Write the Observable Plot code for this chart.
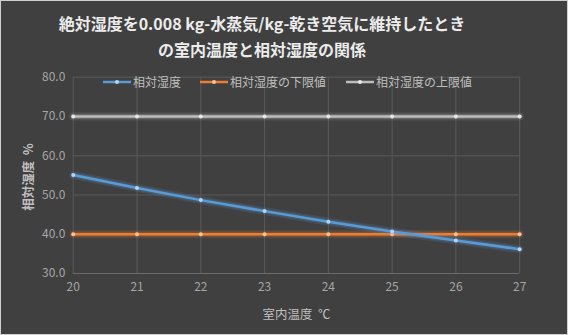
<!DOCTYPE html>
<html><head><meta charset="utf-8">
<script src="https://cdn.jsdelivr.net/npm/d3@7"></script>
<script src="https://cdn.jsdelivr.net/npm/@observablehq/plot@0.6"></script>
<style>
html,body{margin:0;padding:0;background:#404040;}
#wrap{position:relative;width:566px;height:333px;background:#404040;border:1px solid #cfcfcf;overflow:hidden;font-family:"Noto Sans CJK JP","Noto Sans",sans-serif;}
#title{position:absolute;left:0;top:9px;width:522px;text-align:center;color:#ececec;font-weight:bold;font-size:16px;line-height:26px;}
#legend{position:absolute;top:72px;left:0;width:566px;height:16px;font-size:12px;color:#bfbfbf;}
.li{position:absolute;top:0;display:flex;align-items:center;white-space:nowrap;}
#chart{position:absolute;left:0;top:0;}
#ylab{position:absolute;left:-23px;top:166px;width:100px;height:20px;line-height:20px;text-align:center;transform:rotate(-90deg);color:#bfbfbf;font-size:12.5px;font-weight:bold;white-space:pre;}
</style></head>
<body><div id="wrap"><div id="title">絶対湿度を0.008 kg-水蒸気/kg-乾き空気に維持したとき<br>の室内温度と相対湿度の関係</div><div id="chart"></div><div id="legend"></div><div id="ylab"></div></div>
<script>
const temps = [20, 21, 22, 23, 24, 25, 26, 27];
const rh = [55.1, 51.8, 48.7, 45.9, 43.2, 40.7, 38.4, 36.2];
const lowerLimit = [40, 40, 40, 40, 40, 40, 40, 40];
const upperLimit = [70, 70, 70, 70, 70, 70, 70, 70];
const yTicks = [30, 40, 50, 60, 70, 80];
const seriesNames = ["相対湿度", "相対湿度の下限値", "相対湿度の上限値"];
const colors = ["#5b9bd5", "#ed7d31", "#bdbdbd"];
const markerColors = ["#b7d3f0", "#f6c3a0", "#e6e6e6"];
const xLabel = "室内温度\u00a0\u00a0℃";
const yLabel = "相対湿度  %";

const series = [rh, lowerLimit, upperLimit];
const data = [];
series.forEach((vals, s) => temps.forEach((t, i) => data.push({t, v: vals[i], s: seriesNames[s]})));
const bySeries = s => data.filter(d => d.s === seriesNames[s]);

const marks = [
  Plot.gridY(yTicks, {stroke: "#595959", strokeOpacity: 1}),
  Plot.gridX(temps, {stroke: "#595959", strokeOpacity: 1}),
  Plot.ruleY([30], {stroke: "#6a6a6a"}),
];
[1, 2, 0].forEach(s => {
  marks.push(Plot.line(bySeries(s), {x: "t", y: "v", stroke: colors[s], strokeWidth: 8, strokeOpacity: 0.15}));
  marks.push(Plot.line(bySeries(s), {x: "t", y: "v", stroke: colors[s], strokeWidth: 5, strokeOpacity: 0.2}));
  marks.push(Plot.line(bySeries(s), {x: "t", y: "v", stroke: colors[s], strokeWidth: 2.5}));
  marks.push(Plot.dot(bySeries(s), {x: "t", y: "v", r: 2, fill: markerColors[s], stroke: "none"}));
});
marks.push(Plot.axisY(yTicks, {tickSize: 0, tickPadding: 8, tickFormat: d => d.toFixed(1), fill: "#a6a6a6", fontSize: 12, label: null}));
marks.push(Plot.axisX(temps, {tickSize: 0, tickPadding: 9, fill: "#a6a6a6", fontSize: 12, label: null}));

const plot = Plot.plot({
  width: 568, height: 335,
  marginTop: 76, marginBottom: 62, marginLeft: 72, marginRight: 48,
  style: {background: "transparent", color: "#a6a6a6", fontFamily: "'Noto Sans CJK JP','Noto Sans',sans-serif", fontSize: "12px"},
  x: {domain: [20, 27]},
  y: {domain: [30, 80]},
  marks: [
    ...marks,
    Plot.text([xLabel], {frameAnchor: "bottom", dy: 46, fill: "#bfbfbf", fontSize: 12.5})
  ]
});
document.getElementById("chart").appendChild(plot);
document.getElementById("ylab").textContent = yLabel;

const leg = document.getElementById("legend");
const lefts = [102, 199, 345];
seriesNames.forEach((n, i) => {
  const el = document.createElement("div");
  el.className = "li";
  el.style.left = lefts[i] + "px";
  el.innerHTML = `<svg width="29" height="16"><line x1="0" y1="8" x2="28" y2="8" stroke="${colors[i]}" stroke-width="2.5"/><circle cx="14" cy="8" r="2" fill="${markerColors[i]}"/></svg><span style="margin-left:1px">${n}</span>`;
  leg.appendChild(el);
});
</script></body></html>
